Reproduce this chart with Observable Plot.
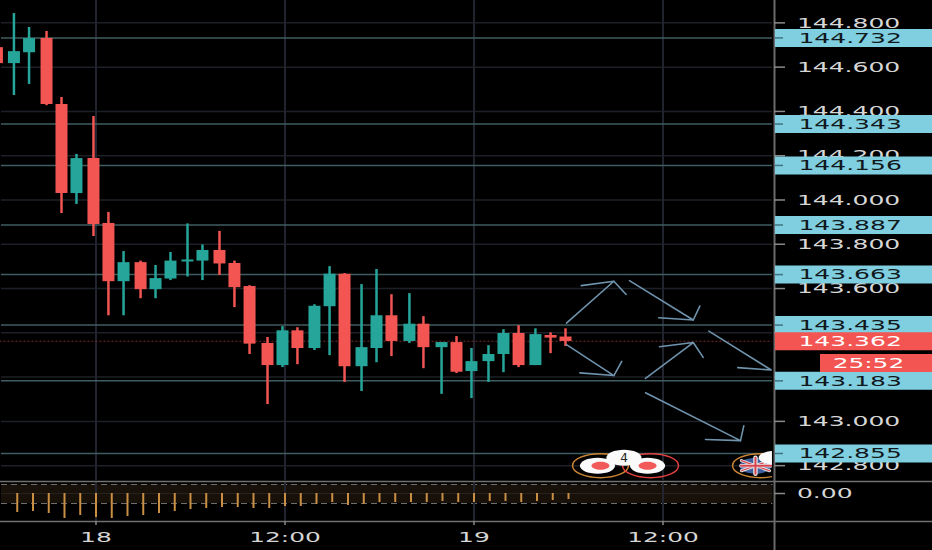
<!DOCTYPE html>
<html><head><meta charset="utf-8">
<script src="https://cdn.jsdelivr.net/npm/d3@7"></script>
<script src="https://cdn.jsdelivr.net/npm/@observablehq/plot@0.6"></script>
<style>html,body{margin:0;padding:0;background:#000;overflow:hidden}svg{display:block}</style>
</head><body><div id="chart"></div>
<script>
// hours since the start of the 18th
const candleHour=[-6.29,-5.21,-4.25,-3.14,-2.19,-1.24,-0.16,0.79,1.75,2.83,3.78,4.73,5.81,6.76,7.84,8.79,9.75,10.89,11.84,12.79,13.87,14.83,15.78,16.86,17.81,18.76,19.90,20.79,21.94,22.89,23.84,24.92,25.87,26.83,27.90,28.86,29.81];
const open=[144.688,144.616,144.665,144.729,144.431,144.029,144.187,143.894,143.631,143.717,143.595,143.643,143.720,143.724,143.772,143.713,143.609,143.352,143.252,143.409,143.329,143.518,143.665,143.247,143.329,143.477,143.361,143.439,143.333,143.356,143.225,143.270,143.302,143.397,143.252,143.388,143.381];
const high=[144.688,144.842,144.779,144.761,144.463,144.206,144.377,143.944,143.767,143.724,143.704,143.763,143.892,143.797,143.858,143.724,143.613,143.379,143.428,143.423,143.527,143.699,143.668,143.618,143.686,143.572,143.577,143.473,143.356,143.383,143.329,143.342,143.414,143.432,143.418,143.400,143.418];
const low=[144.616,144.472,144.522,144.426,143.939,143.980,143.835,143.477,143.477,143.554,143.554,143.636,143.652,143.636,143.659,143.514,143.302,143.076,143.243,143.256,143.320,143.297,143.176,143.135,143.265,143.293,143.352,143.238,143.122,143.216,143.103,143.176,143.220,143.243,143.252,143.306,143.338];
const close=[144.616,144.670,144.729,144.431,144.029,144.187,143.889,143.631,143.717,143.595,143.645,143.724,143.729,143.772,143.711,143.604,143.349,143.252,143.409,143.329,143.520,143.665,143.247,143.333,143.477,143.361,143.439,143.333,143.356,143.222,143.270,143.302,143.397,143.252,143.392,143.376,143.361];
const priceTicks=[144.8,144.6,144.4,144.2,144.0,143.8,143.6,143.4,143.2,143.0,142.8];
const priceLabels=[144.8,144.6,144.4,144.2,144.0,143.8,143.6,143.0,142.8];
const levels=[144.732,144.343,144.156,143.887,143.663,143.435,143.183,142.855];
const lastPrice=143.362;
const dayTicks=[0,12,24,36];
const dayLabels=["18","12:00","19","12:00"];
const oscHour=d3.range(-5,31);
const oscValue=[-0.19,-0.18,-0.20,-0.25,-0.22,-0.24,-0.25,-0.23,-0.22,-0.20,-0.18,-0.16,-0.15,-0.14,-0.14,-0.15,-0.15,-0.13,-0.13,-0.11,-0.09,-0.12,-0.11,-0.09,-0.09,-0.09,-0.09,-0.08,-0.09,-0.09,-0.08,-0.08,-0.09,-0.08,-0.07,-0.06];
const arrowPaths=[
 [[29.87,143.444],[32.88,143.633],[30.81,143.613]],
 [[32.88,143.633],[33.66,143.573]],
 [[33.87,143.636],[37.92,143.458],[35.73,143.468]],
 [[37.92,143.458],[38.34,143.521]],
 [[29.87,143.347],[32.88,143.207],[30.72,143.219]],
 [[32.88,143.207],[33.38,143.271]],
 [[34.89,143.194],[37.92,143.356],[35.78,143.337]],
 [[37.92,143.356],[38.55,143.289]],
 [[38.91,143.408],[42.87,143.232],[40.75,143.243]],
 [[34.89,143.129],[40.92,142.913],[38.70,142.918]],
 [[40.92,142.913],[41.13,142.980]]
];
const flagStrokes=[
 {pts:[[40.98,142.823],[42.76,142.777]],c:"#e6e6e6",w:3},
 {pts:[[40.98,142.777],[42.76,142.823]],c:"#e6e6e6",w:3},
 {pts:[[40.98,142.823],[42.76,142.777]],c:"#d9434e",w:1.2},
 {pts:[[40.98,142.777],[42.76,142.823]],c:"#d9434e",w:1.2},
 {pts:[[40.95,142.800],[42.90,142.800]],c:"#e6e6e6",w:3.5},
 {pts:[[41.87,142.836],[41.87,142.764]],c:"#e6e6e6",w:4.5},
 {pts:[[40.95,142.800],[42.90,142.800]],c:"#d9434e",w:2},
 {pts:[[41.87,142.836],[41.87,142.764]],c:"#d9434e",w:2}
];

const xDomain=[-6.063,53.111];
const paneEnd=43.08, axisHour=43.08, tickEnd=43.78, levelTickEnd=43.65, labelHour=44.5;
const RED="#f25552",TEAL="#26a69a",CYAN="#80cfe0",TXT="#d6d6d6",INK="#10181c";
const candles=candleHour.map((h,i)=>({h,o:open[i],hi:high[i],lo:low[i],c:close[i],col:close[i]>=open[i]?TEAL:RED}));
const font="DejaVu Sans";
const ellipse=a=>({draw(ctx,size){const r=Math.sqrt(size/Math.PI),rx=r*a,ry=r,k=0.5523;
 ctx.moveTo(rx,0);
 ctx.bezierCurveTo(rx,k*ry,k*rx,ry,0,ry);
 ctx.bezierCurveTo(-k*rx,ry,-rx,k*ry,-rx,0);
 ctx.bezierCurveTo(-rx,-k*ry,-k*rx,-ry,0,-ry);
 ctx.bezierCurveTo(k*rx,-ry,rx,-k*ry,rx,0);ctx.closePath();}});
const arrowRows=arrowPaths.flatMap((p,i)=>p.map(([h,v])=>({h,v,i})));
const lab=(arr,o)=>Plot.text(arr,{fontFamily:font,fontSize:14.5,lineAnchor:"middle",className:"stretch",...o});

const main=Plot.plot({width:932,height:480,margin:0,
 style:{background:"#000",fontFamily:font},
 x:{domain:xDomain,range:[0,932],axis:null},
 y:{domain:[142.733,144.901],range:[480,0],axis:null},
 marks:[
  Plot.ruleY(priceTicks,{x1:-6,x2:paneEnd,stroke:"#1d2027",strokeWidth:1.5}),
  Plot.ruleX(dayTicks,{stroke:"#22252f",strokeWidth:2}),
  Plot.ruleY(levels,{x1:-6,x2:paneEnd,stroke:"#3f5c60",strokeWidth:1.5}),
  Plot.ruleY([lastPrice],{x1:-6.1,x2:paneEnd,stroke:"#7a2a2a",strokeWidth:1,strokeDasharray:"2 2"}),
  Plot.ruleX(candles,{x:"h",y1:"lo",y2:"hi",stroke:"col",strokeWidth:2.5}),
  Plot.ruleX(candles,{x:"h",y1:"o",y2:"c",stroke:"col",strokeWidth:12}),
  Plot.line(arrowRows,{x:"h",y:"v",z:"i",stroke:"#6f93ad",strokeWidth:1.6,curve:"linear"}),
  // event markers
  Plot.dot([{h:32.03,c:"#c98432"},{h:35.21,c:"#e0403f"},{h:42.19,c:"#c98432"}],{x:"h",y:()=>142.800,r:12,symbol:ellipse(2.33),fill:"none",stroke:"c",strokeWidth:1.5}),
  Plot.dot([31.84,35.02,33.52],{x:d=>d,y:d=>d===33.52?142.836:142.800,r:8,symbol:ellipse(2.2),fill:"#fafafa"}),
  Plot.dot([32.03,35.02],{x:d=>d,y:()=>142.800,r:4,symbol:ellipse(2.25),fill:"#f25a5a"}),
  Plot.text(["4"],{x:()=>33.52,y:()=>142.836,fill:"#222",fontFamily:font,fontSize:12,lineAnchor:"middle"}),
  Plot.dot([41.87],{x:d=>d,y:()=>142.800,r:8,symbol:ellipse(2),fill:"#3d5f9e"}),
  ...flagStrokes.map(s=>Plot.line(s.pts,{stroke:s.c,strokeWidth:s.w})),
  Plot.dot([43.14],{x:d=>d,y:()=>142.836,r:7,symbol:ellipse(2.4),fill:"#fafafa"}),
  // price scale
  Plot.rectY([0],{x1:paneEnd-0.13,x2:xDomain[1],y1:142.733,y2:144.901,fill:"#000"}),
  Plot.ruleX([axisHour],{stroke:"#6a6a6a",strokeWidth:2}),
  Plot.ruleY(priceTicks,{x1:axisHour,x2:tickEnd,stroke:"#8a8a8a",strokeWidth:1.5}),
  lab(priceLabels,{x:()=>labelHour,y:d=>d,text:d=>d.toFixed(3),textAnchor:"start",fill:TXT}),
  Plot.ruleY(levels,{x1:axisHour+0.06,x2:xDomain[1],stroke:CYAN,strokeWidth:18}),
  Plot.ruleY(levels,{x1:axisHour+0.06,x2:levelTickEnd,stroke:"#3f7482",strokeWidth:1.5}),
  lab(levels,{x:()=>labelHour+0.1,y:d=>d,text:d=>d.toFixed(3),textAnchor:"start",fill:INK}),
  Plot.ruleY([lastPrice],{x1:axisHour+0.06,x2:xDomain[1],stroke:RED,strokeWidth:18}),
  lab([lastPrice],{x:()=>labelHour+0.1,y:d=>d,text:d=>d.toFixed(3),textAnchor:"start",fill:"#fff"}),
  Plot.ruleY([143.264],{x1:46,x2:xDomain[1],stroke:RED,strokeWidth:18}),
  lab(["25:52"],{x:()=>46.77,y:()=>143.264,text:d=>d,textAnchor:"start",fill:"#fff"})
 ]});

const lowDash=-0.10, highDash=0.09, paneBottom=-0.28, paneTop=0.12;
const osc=oscHour.map((h,i)=>({h,v:oscValue[i]}));
const sub=Plot.plot({width:932,height:70,margin:0,
 style:{background:"#000",fontFamily:font},
 x:{domain:xDomain,range:[0,932],axis:null},
 y:{domain:[0.13,-0.57],range:[0,70],axis:null},
 marks:[
  Plot.rectY([0],{x1:-6.0,x2:paneEnd-0.1,y1:highDash,y2:lowDash,fill:"#17110a"}),
  Plot.ruleY([0],{x1:-6,x2:paneEnd-0.1,stroke:"#25221f",strokeWidth:1}),
  Plot.ruleY([highDash,lowDash],{x1:-6,x2:paneEnd-0.1,stroke:"#6f6f6f",strokeWidth:1,strokeDasharray:"6 4"}),
  Plot.ruleX(dayTicks,{y1:paneTop,y2:paneBottom,stroke:"#22252f",strokeWidth:2}),
  Plot.ruleX(osc,{x:"h",y1:()=>0,y2:"v",stroke:"#c98f45",strokeWidth:2}),
  Plot.ruleY([paneTop,paneBottom],{stroke:"#707070",strokeWidth:1.5}),
  Plot.ruleX(dayTicks,{y1:paneBottom,y2:-0.32,stroke:"#8a8a8a",strokeWidth:1.5}),
  Plot.ruleX([axisHour],{stroke:"#6a6a6a",strokeWidth:2}),
  Plot.ruleY([0],{x1:axisHour,x2:tickEnd,stroke:"#8a8a8a",strokeWidth:1.5}),
  lab(["0.00"],{x:()=>labelHour,y:()=>0,text:d=>d,textAnchor:"start",fill:TXT}),
  lab(dayTicks,{x:d=>d,y:()=>-0.44,text:(d,i)=>dayLabels[i],fill:TXT})
 ]});

const host=document.getElementById("chart");
host.append(main,sub);
d3.selectAll(".stretch text").each(function(){
 const s=this.textContent;
 const digits=(s.match(/\d/g)||[]).length;
 this.setAttribute("textLength",digits*15.9+(s.length-digits)*8);
 this.setAttribute("lengthAdjust","spacingAndGlyphs");
});
</script></body></html>
